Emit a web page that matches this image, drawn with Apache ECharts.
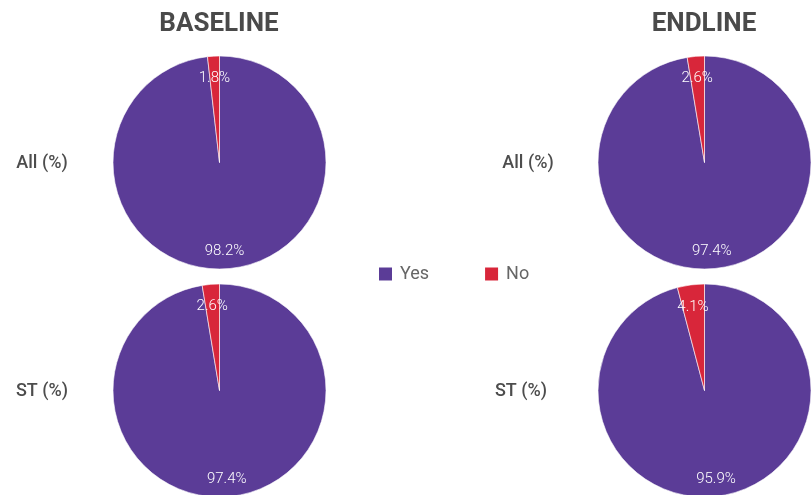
<!DOCTYPE html>
<html>
<head>
<meta charset="utf-8">
<script src="https://cdn.jsdelivr.net/npm/echarts@6/dist/echarts.min.js"></script>
<style>
html,body{margin:0;padding:0;background:#fff;}
#chart{width:811px;height:495px;}
</style>
</head>
<body>
<div id="chart"></div>
<script>
const categories = ['Yes', 'No'];
const panelTitles = ['BASELINE', 'ENDLINE'];
const rowLabels = ['All (%)', 'ST (%)'];
const baselineAll = [98.2, 1.8];
const baselineST = [97.4, 2.6];
const endlineAll = [97.4, 2.6];
const endlineST = [95.9, 4.1];

const colors = ['#5b3c97', '#d8263a'];
const FONT = 'Roboto';

const panels = [
  { values: baselineAll, center: [219.5, 162.5] },
  { values: endlineAll, center: [704.5, 162.5] },
  { values: baselineST, center: [219.5, 390.5] },
  { values: endlineST, center: [704.5, 390.5] }
];
const R = 106.5;

function mkData(vals, withLabelShift) {
  return vals.map((v, i) => {
    const d = { name: categories[i], value: v };
    if (withLabelShift && i === 1) d.label = { offset: [0, 5] };
    return d;
  });
}

const series = [];
panels.forEach(p => {
  series.push({
    type: 'pie',
    center: p.center,
    radius: [0, R],
    startAngle: 90,
    clockwise: true,
    silent: true,
    label: { show: false },
    labelLine: { show: false },
    itemStyle: { borderColor: '#ffffff', borderWidth: 0.6 },
    data: mkData(p.values, false)
  });
});
panels.forEach(p => {
  series.push({
    type: 'pie',
    center: p.center,
    radius: [R * 0.62, R],
    startAngle: 90,
    clockwise: true,
    silent: true,
    legendHoverLink: false,
    itemStyle: { color: 'rgba(0,0,0,0)' },
    label: {
      show: true,
      position: 'inside',
      formatter: d => d.value.toFixed(1) + '%',
      color: '#ffffff',
      fontFamily: FONT,
      fontSize: 15,
      fontWeight: 300
    },
    labelLine: { show: false },
    data: mkData(p.values, true)
  });
});

const rowStyle = { fontFamily: FONT, fontSize: 18, fontWeight: 500, color: '#4d4d4d' };
const headStyle = { fontFamily: FONT, fontSize: 26, fontWeight: 'bold', color: '#4a4a4a' };
const titles = [
  { text: panelTitles[0], left: 219, top: 11, padding: 0, textAlign: 'center', textStyle: headStyle },
  { text: panelTitles[1], left: 704, top: 11, padding: 0, textAlign: 'center', textStyle: headStyle },
  { text: rowLabels[0], left: 42, top: 154, padding: 0, textAlign: 'center', textStyle: rowStyle },
  { text: rowLabels[0], left: 528, top: 154, padding: 0, textAlign: 'center', textStyle: rowStyle },
  { text: rowLabels[1], left: 42, top: 382, padding: 0, textAlign: 'center', textStyle: rowStyle },
  { text: rowLabels[1], left: 521, top: 382, padding: 0, textAlign: 'center', textStyle: rowStyle }
];

const chart = echarts.init(document.getElementById('chart'), null, { renderer: 'canvas' });
chart.setOption({
  animation: false,
  color: colors,
  title: titles,
  legend: {
    data: categories,
    left: 374,
    top: 260,
    icon: 'rect',
    itemWidth: 13,
    itemHeight: 13,
    itemGap: 56,
    selectedMode: false,
    itemStyle: { borderWidth: 0 },
    textStyle: { fontFamily: FONT, fontSize: 18, color: '#666666', padding: [0, 0, 0, 3] }
  },
  series: series
});
</script>
</body>
</html>
